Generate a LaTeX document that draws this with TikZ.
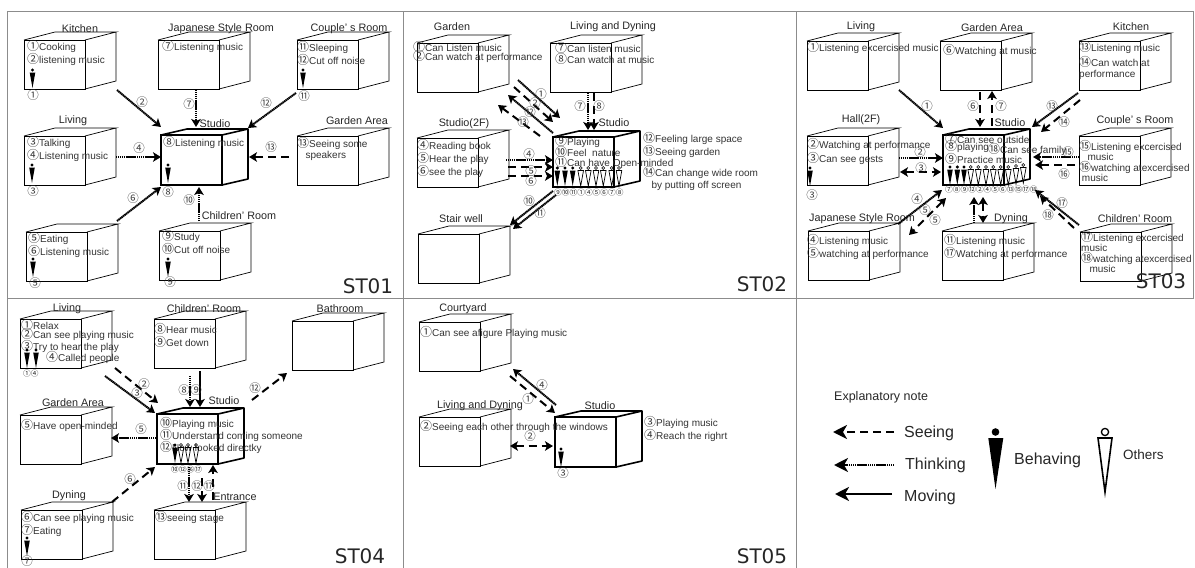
\documentclass[tikz,border=0pt]{standalone}
\usepackage{fontspec}
\setmainfont{Liberation Sans}
\newfontfamily\cjk{Noto Sans CJK JP}
\newfontfamily\dejavu{DejaVu Sans}
\usetikzlibrary{arrows.meta, positioning, calc}

% circled number inside a running text
\newcommand{\cn}[1]{{\cjk\fontsize{12}{11.5}\selectfont #1}}
% room = plain cube, studio = thick cube; #2 is the top left corner of the front face
\newcommand{\roomcube}[2]{%
  \node[room] (#1) at (#2) {};
  \draw[roomline] (#1.north west) -- ++(31,-8) -- ++(61,0) -- (#1.north east)
    (#1.south east) -- ++(31,-8) -- ++(0,-49) -- (#1.north east);
}
\newcommand{\studiocube}[2]{%
  \node[studio] (#1) at (#2) {};
  \draw[studioline] (#1.north west) -- ++(26,-6) -- ++(61,0) -- (#1.north east)
    (#1.south east) -- ++(26,-6) -- ++(0,-50);
}

\tikzset{
  room/.style={draw, line width=0.7pt, anchor=north west, minimum width=61pt, minimum height=49pt, inner sep=0pt, outer sep=0pt},
  roomline/.style={line width=0.7pt},
  studio/.style={draw, line width=1.6pt, anchor=north west, minimum width=61pt, minimum height=50pt, inner sep=0pt, outer sep=0pt},
  studioline/.style={line width=1.6pt, line join=round},
  roomlab/.style={font=\fontsize{10.8}{12}\selectfont, inner sep=0pt, text=black!85},
  roomtxt/.style={anchor=north west, inner sep=0pt, align=left, font=\fontsize{10}{11.5}\selectfont, text=black!80},
  numlab/.style={font=\cjk\fontsize{11.5}{12}\selectfont, inner sep=0pt, text=black!75},
  rowlab/.style={anchor=west, font=\cjk\fontsize{7.7}{8}\selectfont, inner sep=0pt, text=black!85},
  stlab/.style={font=\dejavu\fontsize{20}{22}\selectfont, inner sep=0pt, text=black!85},
  notelab/.style={anchor=west, font=\fontsize{16}{18}\selectfont, inner sep=0pt, text=black!85},
  panel/.style={draw=black!45, line width=0.8pt},
  seearrow/.style={line width=2pt, dash pattern=on 8pt off 5pt},
  thinkarrow/.style={line width=2pt, dash pattern=on 1.4pt off 0.5pt},
  movearrow/.style={line width=2pt},
  behaver/.pic={
    \fill (0,-18) circle (1.7pt);
    \fill (-2.8,-15.5) -- (2.8,-15.5) -- (0,0) -- cycle;
  },
  otherer/.pic={
    \draw[line width=0.6pt] (0,-18) circle (1.5pt);
    \draw[line width=0.7pt] (-2.8,-15.5) -- (2.8,-15.5) -- (0,0) -- cycle;
  },
}

\begin{document}
\begin{tikzpicture}[x=1pt, y=-1pt, >={Stealth[length=8pt,width=9.5pt,inset=2pt]}]
\useasboundingbox (0,0) rectangle (1195,568);

% ===== PANEL FRAME =====
\draw[panel] (7,568) -- (7,11) -- (1193,11) -- (1193,298) -- (7,298);
\draw[panel] (403,11) -- (403,568);
\draw[panel] (796,11) -- (796,568);

% ===== ST01 =====
\roomcube{A-kit}{24,40}
\roomcube{A-jap}{158,40}
\roomcube{A-cou}{297,40}
\roomcube{A-liv}{24,136}
\roomcube{A-gar}{297,136}
\roomcube{A-eat}{26,232}
\roomcube{A-chi}{159,231}
\studiocube{A-stu}{161,135}

\node[roomlab] (A-l1) at (80,29) {Kitchen};
\node[roomlab] (A-l2) at (221,29) {Japanese Style Room};
\node[roomlab] (A-l3) at (349,29) {Couple' s Room};
\node[roomlab] (A-l4) at (73,121) {Living};
\node[roomlab] (A-l5) at (215,124) {Studio};
\node[roomlab] (A-l6) at (357,121) {Garden Area};
\node[roomlab] (A-l7) at (239,216) {Children' Room};

\node[roomtxt] (A-t1) at (27,40) {\cn{①}Cooking\\\cn{②}listening music};
\node[roomtxt] (A-t2) at (162,40) {\cn{⑦}Listening music};
\node[roomtxt] (A-t3) at (297,41) {\cn{⑪}Sleeping\\\cn{⑫}Cut off noise};
\node[roomtxt] (A-t4) at (27,136) {\cn{③}Talking\\\cn{④}Listening music};
\node[roomtxt] (A-t5) at (163,136) {\cn{⑧}Listening music};
\node[roomtxt] (A-t6) at (297,137) {\cn{⑬}Seeing some\\\ \ \ speakers};
\node[roomtxt] (A-t7) at (28,232) {\cn{⑤}Eating\\\cn{⑥}Listening music};
\node[roomtxt] (A-t8) at (162,230) {\cn{⑨}Study\\\cn{⑩}Cut off noise};

\pic at (32.5,88) {behaver};
\pic at (303,88) {behaver};
\pic at (32,183) {behaver};
\pic at (168,183) {behaver};
\pic at (33,277) {behaver};
\pic at (168,277) {behaver};
\node[numlab] (A-p1) at (33,95) {①};
\node[numlab] (A-p2) at (304,96) {⑪};
\node[numlab] (A-p3) at (33,191) {③};
\node[numlab] (A-p4) at (168,192) {⑧};
\node[numlab] (A-p5) at (35,283) {⑤};
\node[numlab] (A-p6) at (170,282) {⑨};

\draw[thinkarrow, ->] ([shift={(32,1)}]A-kit.south east) -- ([shift={(0,-8)}]A-stu.north west);
\draw[thinkarrow, ->] ([shift={(-23,1)}]A-jap.south east) -- ([shift={(35,-8)}]A-stu.north west);
\draw[thinkarrow, ->] ([shift={(-1,4)}]A-cou.south west) -- ([shift={(26,-7)}]A-stu.north east);
\draw[thinkarrow, ->] ([shift={(31,-28)}]A-liv.south east) -- ([shift={(0,22)}]A-stu.north west);
\draw[seearrow, ->] ([shift={(-8,21)}]A-gar.north west) -- ([shift={(27,22)}]A-stu.north east);
\draw[thinkarrow, ->] ([shift={(30,-11)}]A-eat.north east) -- ([shift={(0,2)}]A-stu.south west);
\draw[thinkarrow, ->] ([shift={(40,-10)}]A-chi.north west) -- ([shift={(38,2)}]A-stu.south west);

\node[numlab] (A-n2) at (142,102) {②};
\node[numlab] (A-n7) at (189,104) {⑦};
\node[numlab] (A-n12) at (266,103) {⑫};
\node[numlab] (A-n4) at (139,148) {④};
\node[numlab] (A-n13) at (271,147) {⑬};
\node[numlab] (A-n6) at (133,198) {⑥};
\node[numlab] (A-n10) at (189,200) {⑩};

\node[stlab] (A-st) at (368,286) {ST01};

% ===== ST02 =====
\roomcube{B-gar}{417,43}
\roomcube{B-liv}{550,43}
\roomcube{B-s2f}{417,138}
\roomcube{B-sta}{418,234}
\studiocube{B-stu}{553,137}

\node[roomlab] (B-l1) at (452,27) {Garden};
\node[roomlab] (B-l2) at (613,27) {Living and Dyning};
\node[roomlab] (B-l3) at (464,124) {Studio(2F)};
\node[roomlab] (B-l4) at (614,123) {Studio};
\node[roomlab] (B-l5) at (461,219) {Stair well};

\node[roomtxt] (B-t1) at (413,41) {\cn{①}Can Listen music\\[-2.5pt]\cn{②}Can watch at performance};
\node[roomtxt] (B-t2) at (555,42) {\cn{⑦}Can listen music\\\cn{⑧}Can watch at music};
\node[roomtxt] (B-t3) at (417,139) {\cn{④}Reading book\\\cn{⑤}Hear the play\\\cn{⑥}see the play};
\node[roomtxt] (B-t4) at (555,135) {\cn{⑨}Playing\\[-2pt]\cn{⑩}Feel\ \ nature\\[-2pt]\cn{⑪}Can have Open-minded};
\node[roomtxt] (B-t5) at (643,132) {\cn{⑫}Feeling large space\\\cn{⑬}Seeing garden};
\node[roomtxt] (B-t6) at (643,166) {\cn{⑭}Can change wide room\\[1pt]\ \ \ by putting off screen};

\pic at (557.3,186) {behaver};
\pic at (565,186) {behaver};
\pic at (572.7,186) {behaver};
\pic at (580.7,186) {otherer};
\pic at (588.3,186) {otherer};
\pic at (596,186) {otherer};
\pic at (603.3,186) {otherer};
\pic at (611.7,186) {otherer};
\pic at (619,186) {otherer};
\node[rowlab] (B-row) at (554,193) {⑨⑩⑪①④⑤⑥⑦⑧};

\draw[thinkarrow, ->] ([shift={(40,-12)}]B-gar.south east) -- ([shift={(7,-19)}]B-stu.north west);
\draw[seearrow, ->] ([shift={(36,-5)}]B-gar.south east) -- ([shift={(0,-15)}]B-stu.north west);
\draw[thinkarrow, ->] ([shift={(0,-4)}]B-stu.north west) -- ([shift={(30,3)}]B-gar.south east);
\draw[seearrow, ->] ([shift={(-13,-1)}]B-stu.north west) -- ([shift={(20,13)}]B-gar.south east);
\draw[thinkarrow, ->] ([shift={(38,1)}]B-liv.south west) -- ([shift={(35,-7)}]B-stu.north west);
\draw[seearrow, ->] ([shift={(44,1)}]B-liv.south west) -- ([shift={(41,-7)}]B-stu.north west);
\draw[thinkarrow, ->] ([shift={(28,-27)}]B-s2f.south east) -- ([shift={(0,23)}]B-stu.north west);
\draw[seearrow, ->] ([shift={(30,-20)}]B-s2f.south east) -- ([shift={(0,30)}]B-stu.north west);
\draw[seearrow, ->] ([shift={(30,-11)}]B-s2f.south east) -- ([shift={(0,39)}]B-stu.north west);
\draw[thinkarrow, ->] ([shift={(0,4)}]B-stu.south west) -- ([shift={(31,-9)}]B-sta.north east);
\draw[thinkarrow, ->] ([shift={(3,8)}]B-stu.south west) -- ([shift={(34,-5)}]B-sta.north east);

\node[numlab] (B-n1) at (541,94) {①};
\node[numlab] (B-n2) at (535,103) {②};
\node[numlab] (B-n12) at (530,112) {⑫};
\node[numlab] (B-n13) at (523,122) {⑬};
\node[numlab] (B-n7) at (580,106) {⑦};
\node[numlab] (B-n8) at (599,106) {⑧};
\node[numlab] (B-n4) at (529,154) {④};
\node[numlab] (B-n5) at (531,171) {⑤};
\node[numlab] (B-n6) at (531,181) {⑥};
\node[numlab] (B-n10) at (529,201) {⑩};
\node[numlab] (B-n11) at (540,213) {⑪};

\node[stlab] (B-st) at (762,284) {ST02};

% ===== ST03 =====
\roomcube{C-liv}{807,41}
\roomcube{C-gar}{940,41}
\roomcube{C-kit}{1079,41}
\roomcube{C-hal}{807,136}
\roomcube{C-cou}{1079,136}
\roomcube{C-jap}{808,231}
\roomcube{C-dyn}{942,231}
\roomcube{C-chi}{1080,232}
\studiocube{C-stu}{943,135}

\node[roomlab] (C-l1) at (861,27) {Living};
\node[roomlab] (C-l2) at (992,28) {Garden Area};
\node[roomlab] (C-l3) at (1131,27) {Kitchen};
\node[roomlab] (C-l4) at (861,120) {Hall(2F)};
\node[roomlab] (C-l5) at (1010,123) {Studio};
\node[roomlab] (C-l6) at (1135,121) {Couple' s Room};
\node[roomlab] (C-l7) at (862,219) {Japanese Style Room};
\node[roomlab] (C-l8) at (1011,219) {Dyning};
\node[roomlab] (C-l9) at (1135,219) {Children' Room};

\node[roomtxt] (C-t1) at (807,41) {\cn{①}Listening excercised music};
\node[roomtxt] (C-t2) at (943,44) {\cn{⑥}Watching at music};
\node[roomtxt] (C-t3) at (1079,41) {\cn{⑬}Listening music\\[1.5pt]\cn{⑭}Can watch at\\performance};
\node[roomtxt] (C-t4) at (807,138) {\cn{②}Watching at performance\\[1pt]\cn{③}Can see gests};
\node[roomtxt] (C-t5) at (1079,140) {\cn{⑮}Listening excercised\\[-1pt]\ \ \ music\\[-1pt]\cn{⑯}watching atexcercised\\[-1pt]\ music};
\node[roomtxt] (C-t6) at (945,133) {\cn{⑦}Can see outside\\[-4pt]\cn{⑧}playing\\[-1pt]\cn{⑨}Practice music};
\node[roomtxt] (C-t7) at (988,143) {\cn{⑱}Can see family};
\node[roomtxt] (C-t8) at (807,234) {\cn{④}Listening music\\\cn{⑤}watching at performance};
\node[roomtxt] (C-t9) at (944,234) {\cn{⑪}Listening music\\\cn{⑰}Watching at performance};
\node[roomtxt] (C-t10) at (1081,231) {\cn{⑰}Listening excercised\\[-1pt]music\\[-1pt]\cn{⑱}watching atexcercised\\[-1.5pt]\ \ \ music};

\pic at (810,186) {behaver};
\node[numlab] (C-p1) at (812,195) {③};
\pic at (950,185) {behaver};
\pic at (957.3,185) {behaver};
\pic at (964,185) {behaver};
\pic at (970.7,185) {otherer};
\pic at (978.3,185) {otherer};
\pic at (986,185) {otherer};
\pic at (993.3,185) {otherer};
\pic at (1000.7,185) {otherer};
\pic at (1008.3,185) {otherer};
\pic at (1016,184) {otherer};
\pic at (1023.3,183) {otherer};
\node[rowlab] (C-row) at (945,190) {⑦⑧⑨⑫②④⑤⑥⑬⑮⑰⑱};

\draw[thinkarrow, ->] ([shift={(31,0)}]C-liv.south east) -- ([shift={(0,-7)}]C-stu.north west);
\draw[seearrow, ->] ([shift={(40,2)}]C-gar.south west) -- ([shift={(37,-8)}]C-stu.north west);
\draw[seearrow, ->] ([shift={(49,-9)}]C-stu.north west) -- ([shift={(52,1)}]C-gar.south west);
\draw[thinkarrow, ->] ([shift={(-1,3)}]C-kit.south west) -- ([shift={(28,-8)}]C-stu.north east);
\draw[seearrow, ->] ([shift={(1,10)}]C-kit.south west) -- ([shift={(37,-3)}]C-stu.north east);
\draw[thinkarrow, ->] ([shift={(31,-27)}]C-hal.south east) -- ([shift={(0,23)}]C-stu.north west);
\draw[seearrow, <->] ([shift={(32,-13)}]C-hal.south east) -- ([shift={(-2,37)}]C-stu.north west);
\draw[thinkarrow, ->] ([shift={(0,-28)}]C-cou.south west) -- ([shift={(29,22)}]C-stu.north east);
\draw[seearrow, ->] ([shift={(-4,-20)}]C-cou.south west) -- ([shift={(31,30)}]C-stu.north east);
\draw[thinkarrow, ->] ([shift={(29,-7)}]C-jap.north east) -- ([shift={(-1,5)}]C-stu.south west);
\draw[seearrow, <->] ([shift={(3,13)}]C-stu.south west) -- ([shift={(40,4)}]C-jap.north east);
\draw[thinkarrow, ->] ([shift={(32,-8)}]C-dyn.north west) -- ([shift={(31,12)}]C-stu.south west);
\draw[seearrow, <->] ([shift={(40,12)}]C-stu.south west) -- ([shift={(41,-8)}]C-dyn.north west);
\draw[thinkarrow, ->] ([shift={(-1,-7)}]C-chi.north west) -- ([shift={(31,5)}]C-stu.south east);
\draw[seearrow, ->] ([shift={(-6,-4)}]C-chi.north west) -- ([shift={(36,11)}]C-stu.south east);

\node[numlab] (C-n1) at (927,106) {①};
\node[numlab] (C-n6) at (973,106) {⑥};
\node[numlab] (C-n7) at (1001,106) {⑦};
\node[numlab] (C-n13) at (1052,106) {⑬};
\node[numlab] (C-n14) at (1064,122) {⑭};
\node[numlab] (C-n2) at (920,152) {②};
\node[numlab] (C-n3) at (921,168) {③};
\node[numlab] (C-n15) at (1068,152) {⑮};
\node[numlab] (C-n16) at (1064,174) {⑯};
\node[numlab] (C-n4) at (917,199) {④};
\node[numlab] (C-n5) at (925,210) {⑤};
\node[numlab] (C-n5b) at (935,220) {⑤};
\node[numlab] (C-n17) at (1062,203) {⑰};
\node[numlab] (C-n18) at (1048,215) {⑱};

\node[stlab] (C-st) at (1161,281) {ST03};

% ===== ST04 =====
\roomcube{D-liv}{20,319}
\roomcube{D-chi}{154,319}
\roomcube{D-bat}{292,321}
\roomcube{D-gar}{20,415}
\roomcube{D-dyn}{21,510}
\roomcube{D-ent}{154,510}
\studiocube{D-stu}{157,414}

\node[roomlab] (D-l1) at (67,309) {Living};
\node[roomlab] (D-l2) at (204,309) {Children' Room};
\node[roomlab] (D-l3) at (340,309) {Bathroom};
\node[roomlab] (D-l4) at (73,403) {Garden Area};
\node[roomlab] (D-l5) at (224,401) {Studio};
\node[roomlab] (D-l6) at (69,496) {Dyning};
\node[roomlab] (D-l7) at (235,497) {Entrance};

\node[roomtxt] (D-t1) at (21,319) {\cn{①}Relax\\[-2.5pt]\cn{②}Can see playing music\\[-1pt]\cn{③}Try to hear the play};
\node[roomtxt] (D-t2) at (46,351) {\cn{④}Called people};
\node[roomtxt] (D-t3) at (154,323) {\cn{⑧}Hear music\\[2pt]\cn{⑨}Get down};
\node[roomtxt] (D-t4) at (21,419) {\cn{⑤}Have open-minded};
\node[roomtxt] (D-t5) at (160,417) {\cn{⑩}Playing music\\[-1pt]\cn{⑪}Understand coming someone\\[-1pt]\cn{⑫}Now looked directky};
\node[roomtxt] (D-t6) at (21,511) {\cn{⑥}Can see playing music\\\cn{⑦}Eating};
\node[roomtxt] (D-t7) at (155,511) {\cn{⑬}seeing stage};

\pic at (27,368) {behaver};
\pic at (36,368) {behaver};
\node[rowlab] (D-row1) at (23,374) {①④};
\pic at (175,463) {behaver};
\pic at (181,463) {otherer};
\pic at (188,463) {otherer};
\pic at (196,463) {otherer};
\node[rowlab] (D-row2) at (171,470) {⑩⑫⑯⑰};
\pic at (27,556) {behaver};
\node[numlab] (D-p1) at (27,561) {⑦};

\draw[seearrow, ->] ([shift={(34,0)}]D-liv.south east) -- ([shift={(1,-11)}]D-stu.north west);
\draw[thinkarrow, ->] ([shift={(24,8)}]D-liv.south east) -- ([shift={(-2,-1)}]D-stu.north west);
\draw[thinkarrow, ->] ([shift={(36,8)}]D-chi.south west) -- ([shift={(33,-7)}]D-stu.north west);
\draw[movearrow, ->] ([shift={(46,3)}]D-chi.south west) -- ([shift={(43,-7)}]D-stu.north west);
\draw[thinkarrow, ->] ([shift={(-1,24)}]D-stu.north west) -- ([shift={(30,23)}]D-gar.north east);
\draw[seearrow, ->] ([shift={(30,-8)}]D-dyn.north east) -- ([shift={(-2,3)}]D-stu.south west);
\draw[seearrow, ->] ([shift={(34,-14)}]D-stu.north east) -- ([shift={(-5,3)}]D-bat.south west);
\draw[thinkarrow, ->] ([shift={(32,3)}]D-stu.south west) -- ([shift={(35,-8)}]D-ent.north west);
\draw[seearrow, ->] ([shift={(45,14)}]D-stu.south west) -- ([shift={(48,-8)}]D-ent.north west);
\draw[seearrow, ->] ([shift={(59,-10)}]D-ent.north west) -- ([shift={(56,1)}]D-stu.south west);

\node[numlab] (D-n2) at (144,384) {②};
\node[numlab] (D-n3) at (137,393) {③};
\node[numlab] (D-n8) at (184,390) {⑧};
\node[numlab] (D-n9) at (196,390) {⑨};
\node[numlab] (D-n5) at (141,429) {⑤};
\node[numlab] (D-n6) at (130,479) {⑥};
\node[numlab] (D-n12) at (255,388) {⑫};
\node[numlab] (D-n11) at (183,486) {⑪};
\node[numlab] (D-n12b) at (197,486) {⑫};
\node[numlab] (D-n17) at (209,486) {⑰};

\node[stlab] (D-st) at (360,556) {ST04};

% ===== ST05 =====
\roomcube{E-cou}{419,322}
\roomcube{E-lvd}{419,417}
\studiocube{E-stu}{555,417}

\node[roomlab] (E-l1) at (463,309) {Courtyard};
\node[roomlab] (E-l2) at (480,406) {Living and Dyning};
\node[roomlab] (E-l3) at (600,406) {Studio};

\node[roomtxt] (E-t1) at (420,326) {\cn{①}Can see afigure Playing music};
\node[roomtxt] (E-t2) at (420,420) {\cn{②}Seeing each other through the windows};
\node[roomtxt] (E-t3) at (644,416) {\cn{③}Playing music\\\cn{④}Reach the righrt};

\pic at (561,467) {behaver};
\node[numlab] (E-p1) at (563,473) {③};

\draw[thinkarrow, ->] ([shift={(1,-12)}]E-stu.north west) -- ([shift={(33,-2)}]E-cou.south east);
\draw[seearrow, ->] ([shift={(30,5)}]E-cou.south east) -- ([shift={(0,-4)}]E-stu.north west);
\draw[seearrow, <->] ([shift={(30,-20)}]E-lvd.south east) -- ([shift={(-2,29)}]E-stu.north west);

\node[numlab] (E-n4) at (542,385) {④};
\node[numlab] (E-n1) at (528,399) {①};
\node[numlab] (E-n2) at (530,436) {②};

\node[stlab] (E-st) at (762,556) {ST05};

% ===== EXPLANATORY NOTE =====
\node[notelab, font=\fontsize{12.5}{14}\selectfont] (N-head) at (834,397) {Explanatory note};
\node[notelab] (N-see) at (904,433) {Seeing};
\node[notelab] (N-think) at (905,465) {Thinking};
\node[notelab] (N-move) at (904,497) {Moving};
\node[notelab] (N-beh) at (1014,460) {Behaving};
\node[notelab, font=\fontsize{13.5}{15}\selectfont] (N-oth) at (1123,455) {Others};

\begin{scope}[>={Stealth[length=14pt,width=14pt,inset=4pt]}]
\draw[seearrow, line width=2.4pt, ->] ([shift={(-10,-1)}]N-see.west) -- ([shift={(-71,-1)}]N-see.west);
\draw[thinkarrow, line width=2.4pt, ->] ([shift={(-11,0)}]N-think.west) -- ([shift={(-71,0)}]N-think.west);
\draw[movearrow, line width=2.4pt, ->] ([shift={(-12,-3)}]N-move.west) -- ([shift={(-69,-3)}]N-move.west);
\end{scope}

\fill (995.5,432) circle (3.8pt);
\fill (988.3,438) -- (1003.3,438) -- (995.5,489) -- cycle;
\draw[line width=1.3pt] (1105,432) circle (3.6pt);
\draw[line width=1.6pt] (1098,438) -- (1112,438) -- (1105,492) -- cycle;

\end{tikzpicture}
\end{document}
